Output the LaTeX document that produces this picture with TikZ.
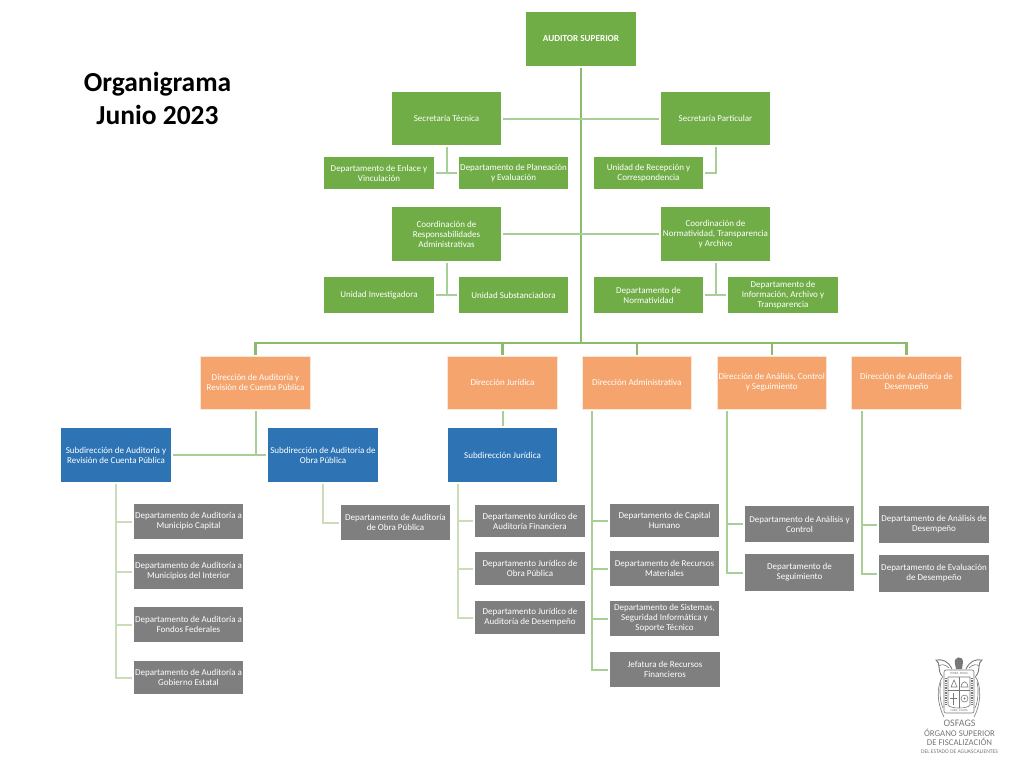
\documentclass[tikz,border=0pt]{standalone}
\usepackage{fontspec}
\setmainfont{Carlito}
\definecolor{verde}{HTML}{70AD47}
\definecolor{naranja}{HTML}{F4A46C}
\definecolor{borde}{HTML}{FBE5D6}
\definecolor{azul}{HTML}{2E74B5}
\definecolor{gris}{HTML}{7F7F7F}
\definecolor{lineaA}{HTML}{8ABB6E}
\definecolor{lineaB}{HTML}{A9CF98}
\definecolor{lineaC}{HTML}{C9DDBB}
\definecolor{logogris}{HTML}{777777}
\tikzset{
  caja/.style={inner sep=0pt,minimum width=109.5pt,align=center,text=white,
    font=\fontsize{9}{10}\selectfont},
  cajaverde/.style={caja,fill=verde},
  cajanaranja/.style={caja,fill=naranja,draw=borde,line width=0.7pt,minimum height=53pt},
  cajaazul/.style={caja,fill=azul,minimum height=54pt},
  cajagris/.style={caja,fill=gris},
  lineauno/.style={draw=lineaA,line width=2.4pt},
  lineados/.style={draw=lineaB,line width=2pt,shorten <=2pt,shorten >=2pt},
  lineatres/.style={draw=lineaC,line width=2pt,shorten <=2pt,shorten >=2pt},
  escudo/.style={draw=logogris,line width=0.6pt}
}
\begin{document}
\begin{tikzpicture}[x=1pt,y=-1pt]
  \useasboundingbox (0,0) rectangle (1014,758);
  \node[font=\fontsize{27.5}{33}\selectfont\bfseries,align=center] (titulo) at (157.5,98) {Organigrama\\Junio 2023};

  \node[cajaverde,font=\fontsize{9.2}{10}\selectfont\bfseries,minimum height=54pt] (auditor) at (581,39) {AUDITOR SUPERIOR};
  \node[cajaverde,minimum height=53pt] (tecnica) at (446.5,118.5) {Secretaría Técnica};
  \node[cajaverde,minimum height=53pt] (particular) at (715.5,118.5) {Secretaría Particular};
  \node[cajaverde,minimum height=32pt] (enlace) at (379,173) {Departamento de Enlace y\\Vinculación};
  \node[cajaverde,minimum height=32pt] (planeacion) at (513.5,173) {Departamento de Planeación\\y Evaluación};
  \node[cajaverde,minimum height=32pt] (recepcion) at (648.5,173) {Unidad de Recepción y\\Correspondencia};
  \node[cajaverde,minimum height=54pt] (responsabilidades) at (446.5,234) {Coordinación de\\Responsabilidades\\Administrativas};
  \node[cajaverde,minimum height=54pt] (transparencia) at (715.5,234) {Coordinación de\\Normatividad, Transparencia\\y Archivo};
  \node[cajaverde,minimum height=36pt] (investigadora) at (379,295) {Unidad Investigadora};
  \node[cajaverde,minimum height=36pt] (substanciadora) at (513.5,295) {Unidad Substanciadora};
  \node[cajaverde,minimum height=36pt] (normatividad) at (648.5,295) {Departamento de\\Normatividad};
  \node[cajaverde,minimum height=36pt] (informacion) at (783,295) {Departamento de\\Información, Archivo y\\Transparencia};

  \node[cajanaranja] (dirauditoria) at (255.5,382.5) {Dirección de Auditoría y\\Revisión de Cuenta Pública};
  \node[cajanaranja] (dirjuridica) at (502.5,382.5) {Dirección Jurídica};
  \node[cajanaranja] (diradmin) at (636.8,382.5) {Dirección Administrativa};
  \node[cajanaranja] (diranalisis) at (771.7,382.5) {Dirección de Análisis, Control\\y Seguimiento};
  \node[cajanaranja] (dirdesempeno) at (906.5,382.5) {Dirección de Auditoría de\\Desempeño};

  \node[cajaazul] (subcuenta) at (116,455) {Subdirección de Auditoría y\\Revisión de Cuenta Pública};
  \node[cajaazul] (subobra) at (323,455) {Subdirección de Auditoría de\\Obra Pública};
  \node[cajaazul] (subjuridica) at (502.5,455) {Subdirección Jurídica};

  \node[cajagris,minimum height=35pt] (capital) at (188.5,521.5) {Departamento de Auditoría a\\Municipio Capital};
  \node[cajagris,minimum height=35pt] (interior) at (188.5,571.5) {Departamento de Auditoría a\\Municipios del Interior};
  \node[cajagris,minimum height=35pt] (federales) at (188.5,624.5) {Departamento de Auditoría a\\Fondos Federales};
  \node[cajagris,minimum height=33pt] (estatal) at (188.5,677.5) {Departamento de Auditoría a\\Gobierno Estatal};
  \node[cajagris,minimum height=35pt] (obra) at (395.5,522.5) {Departamento de Auditoría\\de Obra Pública};
  \node[cajagris,minimum height=32pt] (financiera) at (530,521) {Departamento Jurídico de\\Auditoría Financiera};
  \node[cajagris,minimum height=33pt] (juridicoobra) at (530,568.5) {Departamento Jurídico de\\Obra Pública};
  \node[cajagris,minimum height=33pt] (juridicodes) at (530,617.5) {Departamento Jurídico de\\Auditoría de Desempeño};
  \node[cajagris,minimum height=33pt] (humano) at (664.5,520.5) {Departamento de Capital\\Humano};
  \node[cajagris,minimum height=35pt] (materiales) at (664.5,568.5) {Departamento de Recursos\\Materiales};
  \node[cajagris,minimum height=35pt] (sistemas) at (664.5,618.5) {Departamento de Sistemas,\\Seguridad Informática y\\Soporte Técnico};
  \node[cajagris,minimum height=35pt] (financieros) at (665,669.5) {Jefatura de Recursos\\Financieros};
  \node[cajagris,minimum height=36pt] (control) at (799.5,524) {Departamento de Análisis y\\Control};
  \node[cajagris,minimum height=37pt] (seguimiento) at (799.5,572.5) {Departamento de\\Seguimiento};
  \node[cajagris,minimum height=37pt] (analisisdes) at (934,524.5) {Departamento de Análisis de\\Desempeño};
  \node[cajagris,minimum height=37pt] (evaluacion) at (934,573.5) {Departamento de Evaluación\\de Desempeño};

  \coordinate (bus) at (581,343);

  \draw[lineauno,shorten <=2pt] (auditor) -- (bus);
  \draw[lineauno,shorten >=1pt] (bus) -| (dirauditoria.north);
  \draw[lineauno,shorten >=1pt] (bus) -| (dirjuridica.north);
  \draw[lineauno,shorten >=1pt] (bus) -| (diradmin.north);
  \draw[lineauno,shorten >=1pt] (bus) -| (diranalisis.north);
  \draw[lineauno,shorten >=1pt] (bus) -| (dirdesempeno.north);
  \draw[lineados] (tecnica) -- (particular);
  \draw[lineados] (responsabilidades) -- (transparencia);
  \draw[lineados] (tecnica.south) |- (enlace.east);
  \draw[lineados] (tecnica.south) |- (planeacion.west);
  \draw[lineados] (particular.south) |- (recepcion.east);
  \draw[lineados] (responsabilidades.south) |- (investigadora.east);
  \draw[lineados] (responsabilidades.south) |- (substanciadora.west);
  \draw[lineados] (transparencia.south) |- (normatividad.east);
  \draw[lineados] (transparencia.south) |- (informacion.west);

  \draw[lineados] (dirauditoria.south) |- (subcuenta.east);
  \draw[lineados] (dirauditoria.south) |- (subobra.west);
  \draw[lineados] (dirjuridica.south) -- (subjuridica.north);

  \draw[lineatres] (subcuenta.south) |- (capital.west);
  \draw[lineatres] (subcuenta.south) |- (interior.west);
  \draw[lineatres] (subcuenta.south) |- (federales.west);
  \draw[lineatres] (subcuenta.south) |- (estatal.west);
  \draw[lineatres] (subobra.south) |- (obra.west);
  \draw[lineatres] ([xshift=-44.5pt]subjuridica.south) |- (financiera.west);
  \draw[lineatres] ([xshift=-44.5pt]subjuridica.south) |- (juridicoobra.west);
  \draw[lineatres] ([xshift=-44.5pt]subjuridica.south) |- (juridicodes.west);
  \draw[lineados] ([xshift=-44.8pt]diradmin.south) |- (humano.west);
  \draw[lineados] ([xshift=-44.8pt]diradmin.south) |- (materiales.west);
  \draw[lineados] ([xshift=-44.8pt]diradmin.south) |- (sistemas.west);
  \draw[lineados] ([xshift=-44.8pt]diradmin.south) |- (financieros.west);
  \draw[lineados] ([xshift=-44.7pt]diranalisis.south) |- (control.west);
  \draw[lineados] ([xshift=-44.7pt]diranalisis.south) |- (seguimiento.west);
  \draw[lineados] ([xshift=-44.5pt]dirdesempeno.south) |- (analisisdes.west);
  \draw[lineados] ([xshift=-44.5pt]dirdesempeno.south) |- (evaluacion.west);

  \draw[escudo,rounded corners=2pt] (944,670) rectangle (974,713);
  \draw[escudo] (948,677) -- (948,705) .. controls (950,709) and (968,709) .. (970,705) -- (970,677) -- cycle;
  \draw[escudo] (948,690) -- (970,690) (959,677) -- (959,708);
  \draw[escudo] (951,687) -- (954,680) -- (957,687) -- cycle;
  \draw[escudo] (961,687) .. controls (962,680) and (967,680) .. (968,687) -- cycle;
  \draw[escudo] (964.5,698.5) circle (3.5pt);
  \fill[logogris] (964.5,698.5) circle (1.2pt);
  \draw[escudo] (953.5,693) -- (953.5,705) (950,698) -- (957,698);
  \draw[draw=logogris,line width=1.6pt,dash pattern=on 1pt off 0.7pt] (946,678) -- (946,704);
  \draw[draw=logogris,line width=1.6pt,dash pattern=on 1pt off 0.7pt] (972,678) -- (972,704);
  \fill[logogris] (955,664) .. controls (953,656) and (963,655) .. (963,662) -- (962,669) -- (956,669) -- cycle;
  \draw[escudo,line width=0.9pt] (952,669) .. controls (948,661) and (943,659) .. (936,660) .. controls (941,663) and (937,670) .. (942,676);
  \draw[escudo,line width=0.9pt] (966,669) .. controls (970,661) and (975,659) .. (982,660) .. controls (977,663) and (981,670) .. (976,676);
  \draw[escudo] (949,668) .. controls (945,664) and (941,664) .. (939,666);
  \draw[escudo] (969,668) .. controls (973,664) and (977,664) .. (979,666);
  \draw[escudo] (943,676) .. controls (936,686) and (937,704) .. (944,717);
  \draw[escudo] (975,676) .. controls (982,686) and (981,704) .. (974,717);
  \draw[escudo] (941,682) .. controls (939,690) and (940,702) .. (943,708);
  \draw[escudo] (977,682) .. controls (979,690) and (978,702) .. (975,708);
  \node[text=logogris,font=\fontsize{3.2}{4}\selectfont] (terra) at (959,673.5) {TERRA, BONA};
  \node[text=logogris,font=\fontsize{3.2}{4}\selectfont] (cara) at (959,711) {CARA, CLARA};
  \node[text=logogris,font=\fontsize{10}{9}\selectfont] (osfags) at (959.5,723.5) {OSFAGS};
  \node[text=logogris,font=\fontsize{8.8}{9}\selectfont] (organo) at (959.5,732.5) {ÓRGANO SUPERIOR};
  \node[text=logogris,font=\fontsize{8.8}{9}\selectfont] (fiscal) at (959.5,741.5) {DE FISCALIZACIÓN};
  \node[text=logogris,font=\fontsize{5.6}{5}\selectfont] (estado) at (959.5,751.5) {DEL ESTADO DE AGUASCALIENTES};
\end{tikzpicture}
\end{document}
